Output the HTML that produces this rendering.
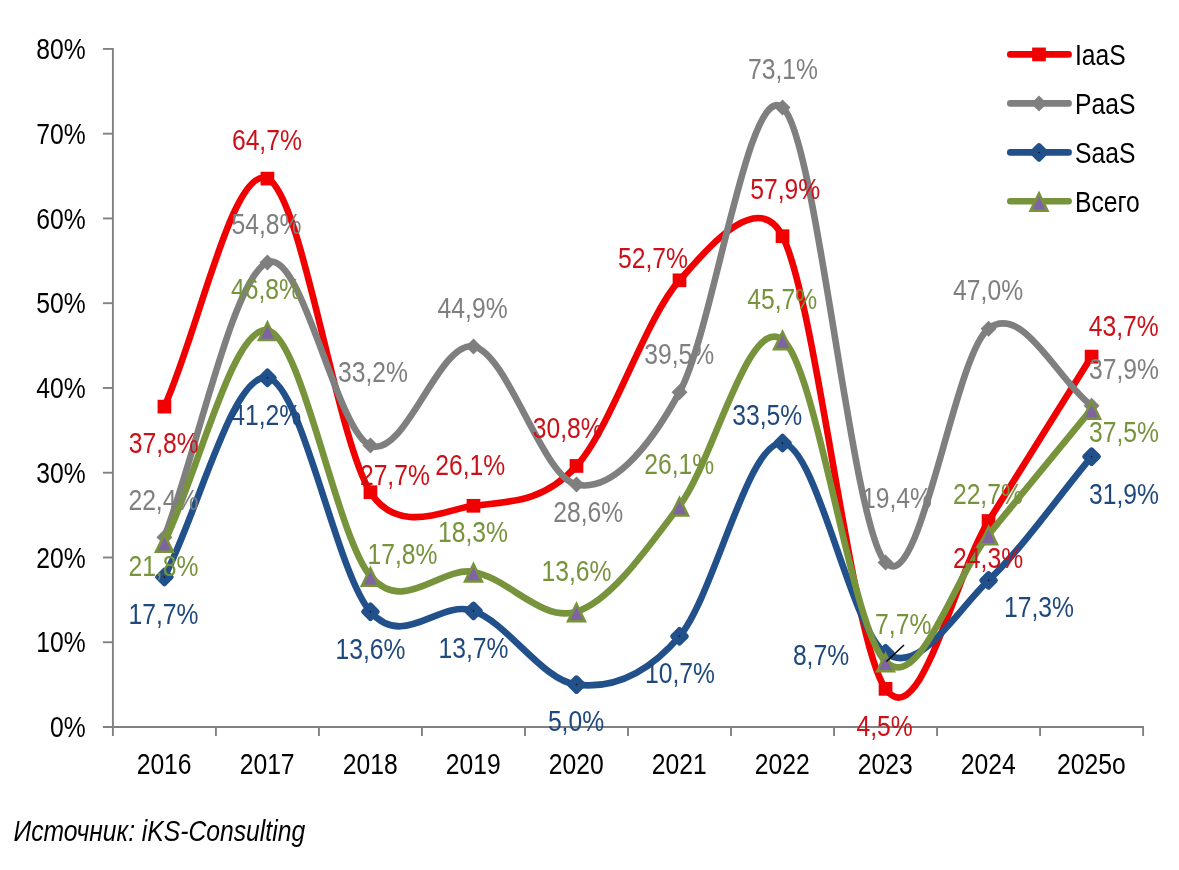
<!DOCTYPE html>
<html lang="ru"><head><meta charset="utf-8"><title>Chart</title>
<style>
html,body{margin:0;padding:0;background:#fff;}
body{width:1179px;height:870px;overflow:hidden;}
svg{display:block;}
text{font-family:"Liberation Sans",sans-serif;font-size:30.4px;}
</style></head><body>
<svg width="1179" height="870" viewBox="0 0 1179 870">
<rect width="1179" height="870" fill="#fff"/>
<g stroke="#818181" stroke-width="1.9" fill="none">
<path d="M112.9,48.02 V736.00"/>
<path d="M102.9,727.0 H1144.00"/>
<path d="M102.9,642.24 H112.9"/>
<path d="M102.9,557.48 H112.9"/>
<path d="M102.9,472.72 H112.9"/>
<path d="M102.9,387.96 H112.9"/>
<path d="M102.9,303.20 H112.9"/>
<path d="M102.9,218.44 H112.9"/>
<path d="M102.9,133.68 H112.9"/>
<path d="M102.9,48.92 H112.9"/>
<path d="M215.92,727.0 V736.0"/>
<path d="M318.94,727.0 V736.0"/>
<path d="M421.96,727.0 V736.0"/>
<path d="M524.98,727.0 V736.0"/>
<path d="M628.00,727.0 V736.0"/>
<path d="M731.02,727.0 V736.0"/>
<path d="M834.04,727.0 V736.0"/>
<path d="M937.06,727.0 V736.0"/>
<path d="M1040.08,727.0 V736.0"/>
<path d="M1143.10,727.0 V736.0"/>
</g>
<g id="ylabels">
<text transform="translate(85.60,737.20) scale(0.812,1)" text-anchor="end" fill="#000">0%</text>
<text transform="translate(85.60,652.44) scale(0.812,1)" text-anchor="end" fill="#000">10%</text>
<text transform="translate(85.60,567.68) scale(0.812,1)" text-anchor="end" fill="#000">20%</text>
<text transform="translate(85.60,482.92) scale(0.812,1)" text-anchor="end" fill="#000">30%</text>
<text transform="translate(85.60,398.16) scale(0.812,1)" text-anchor="end" fill="#000">40%</text>
<text transform="translate(85.60,313.40) scale(0.812,1)" text-anchor="end" fill="#000">50%</text>
<text transform="translate(85.60,228.64) scale(0.812,1)" text-anchor="end" fill="#000">60%</text>
<text transform="translate(85.60,143.88) scale(0.812,1)" text-anchor="end" fill="#000">70%</text>
<text transform="translate(85.60,59.12) scale(0.812,1)" text-anchor="end" fill="#000">80%</text>
</g><g id="xlabels">
<text transform="translate(164.11,773.80) scale(0.812,1)" text-anchor="middle" fill="#000">2016</text>
<text transform="translate(267.13,773.80) scale(0.812,1)" text-anchor="middle" fill="#000">2017</text>
<text transform="translate(370.15,773.80) scale(0.812,1)" text-anchor="middle" fill="#000">2018</text>
<text transform="translate(473.17,773.80) scale(0.812,1)" text-anchor="middle" fill="#000">2019</text>
<text transform="translate(576.19,773.80) scale(0.812,1)" text-anchor="middle" fill="#000">2020</text>
<text transform="translate(679.21,773.80) scale(0.812,1)" text-anchor="middle" fill="#000">2021</text>
<text transform="translate(782.23,773.80) scale(0.812,1)" text-anchor="middle" fill="#000">2022</text>
<text transform="translate(885.25,773.80) scale(0.812,1)" text-anchor="middle" fill="#000">2023</text>
<text transform="translate(988.27,773.80) scale(0.812,1)" text-anchor="middle" fill="#000">2024</text>
<text transform="translate(1091.29,773.80) scale(0.812,1)" text-anchor="middle" fill="#000">2025о</text>
</g>
<path d="M164.41,406.61 C198.75,330.61 233.09,164.33 267.43,178.60 C301.77,192.87 336.11,437.69 370.45,492.21 C398.14,536.18 445.78,509.31 473.47,505.78 C507.81,501.40 542.15,503.52 576.49,465.94 C610.83,428.36 645.17,318.60 679.51,280.31 C704.74,252.19 757.30,186.22 782.53,236.24 C816.87,304.33 851.21,641.39 885.55,688.86 C919.89,736.32 954.23,576.41 988.57,521.03 C1022.91,465.66 1057.25,411.41 1091.59,356.60" fill="none" stroke="#F00000" stroke-width="6.6" stroke-linecap="round" stroke-linejoin="round"/>
<rect x="157.56" y="399.76" width="13.7" height="13.7" fill="#F00000"/>
<rect x="260.58" y="171.75" width="13.7" height="13.7" fill="#F00000"/>
<rect x="363.60" y="485.36" width="13.7" height="13.7" fill="#F00000"/>
<rect x="466.62" y="498.93" width="13.7" height="13.7" fill="#F00000"/>
<rect x="569.64" y="459.09" width="13.7" height="13.7" fill="#F00000"/>
<rect x="672.66" y="273.46" width="13.7" height="13.7" fill="#F00000"/>
<rect x="775.68" y="229.39" width="13.7" height="13.7" fill="#F00000"/>
<rect x="878.70" y="682.01" width="13.7" height="13.7" fill="#F00000"/>
<rect x="981.72" y="514.18" width="13.7" height="13.7" fill="#F00000"/>
<rect x="1084.74" y="349.75" width="13.7" height="13.7" fill="#F00000"/>
<path d="M164.41,537.14 C198.75,445.60 233.09,277.77 267.43,262.52 C301.77,247.26 336.11,431.61 370.45,445.60 C404.79,459.58 439.13,339.93 473.47,346.43 C507.81,352.93 542.15,476.96 576.49,484.59 C609.66,491.95 646.34,452.92 679.51,392.20 C713.85,329.33 748.19,79.01 782.53,107.40 C816.87,135.80 851.21,525.70 885.55,562.57 C919.89,599.44 954.23,354.76 988.57,328.63 C1022.91,302.49 1057.25,380.05 1091.59,405.76" fill="none" stroke="#7F7F7F" stroke-width="6.6" stroke-linecap="round" stroke-linejoin="round"/>
<path d="M164.41,529.14 L172.41,537.14 L164.41,545.14 L156.41,537.14Z" fill="#7F7F7F"/>
<path d="M267.43,254.52 L275.43,262.52 L267.43,270.52 L259.43,262.52Z" fill="#7F7F7F"/>
<path d="M370.45,437.60 L378.45,445.60 L370.45,453.60 L362.45,445.60Z" fill="#7F7F7F"/>
<path d="M473.47,338.43 L481.47,346.43 L473.47,354.43 L465.47,346.43Z" fill="#7F7F7F"/>
<path d="M576.49,476.59 L584.49,484.59 L576.49,492.59 L568.49,484.59Z" fill="#7F7F7F"/>
<path d="M679.51,384.20 L687.51,392.20 L679.51,400.20 L671.51,392.20Z" fill="#7F7F7F"/>
<path d="M782.53,99.40 L790.53,107.40 L782.53,115.40 L774.53,107.40Z" fill="#7F7F7F"/>
<path d="M885.55,554.57 L893.55,562.57 L885.55,570.57 L877.55,562.57Z" fill="#7F7F7F"/>
<path d="M988.57,320.63 L996.57,328.63 L988.57,336.63 L980.57,328.63Z" fill="#7F7F7F"/>
<path d="M1091.59,397.76 L1099.59,405.76 L1091.59,413.76 L1083.59,405.76Z" fill="#7F7F7F"/>
<path d="M164.41,576.97 C198.75,510.58 233.09,372.00 267.43,377.79 C301.77,383.58 336.11,572.88 370.45,611.73 C404.57,650.32 439.35,598.81 473.47,610.88 C507.81,623.03 542.15,680.38 576.49,684.62 C610.83,688.86 645.17,676.57 679.51,636.31 C713.85,596.05 748.19,440.23 782.53,443.05 C816.87,445.88 851.21,630.37 885.55,653.26 C919.89,676.14 954.23,613.14 988.57,580.37 C1022.91,547.59 1057.25,497.87 1091.59,456.62" fill="none" stroke="#21508A" stroke-width="6.6" stroke-linecap="round" stroke-linejoin="round"/>
<path d="M164.41,570.27 L171.11,576.97 L164.41,583.67 L157.71,576.97Z" fill="#21508A" stroke="#21508A" stroke-width="5.2" stroke-linejoin="round"/><circle cx="164.41" cy="576.97" r="0.75" fill="#0a0a1a"/>
<path d="M267.43,371.09 L274.13,377.79 L267.43,384.49 L260.73,377.79Z" fill="#21508A" stroke="#21508A" stroke-width="5.2" stroke-linejoin="round"/><circle cx="267.43" cy="377.79" r="0.75" fill="#0a0a1a"/>
<path d="M370.45,605.03 L377.15,611.73 L370.45,618.43 L363.75,611.73Z" fill="#21508A" stroke="#21508A" stroke-width="5.2" stroke-linejoin="round"/><circle cx="370.45" cy="611.73" r="0.75" fill="#0a0a1a"/>
<path d="M473.47,604.18 L480.17,610.88 L473.47,617.58 L466.77,610.88Z" fill="#21508A" stroke="#21508A" stroke-width="5.2" stroke-linejoin="round"/><circle cx="473.47" cy="610.88" r="0.75" fill="#0a0a1a"/>
<path d="M576.49,677.92 L583.19,684.62 L576.49,691.32 L569.79,684.62Z" fill="#21508A" stroke="#21508A" stroke-width="5.2" stroke-linejoin="round"/><circle cx="576.49" cy="684.62" r="0.75" fill="#0a0a1a"/>
<path d="M679.51,629.61 L686.21,636.31 L679.51,643.01 L672.81,636.31Z" fill="#21508A" stroke="#21508A" stroke-width="5.2" stroke-linejoin="round"/><circle cx="679.51" cy="636.31" r="0.75" fill="#0a0a1a"/>
<path d="M782.53,436.35 L789.23,443.05 L782.53,449.75 L775.83,443.05Z" fill="#21508A" stroke="#21508A" stroke-width="5.2" stroke-linejoin="round"/><circle cx="782.53" cy="443.05" r="0.75" fill="#0a0a1a"/>
<path d="M885.55,646.56 L892.25,653.26 L885.55,659.96 L878.85,653.26Z" fill="#21508A" stroke="#21508A" stroke-width="5.2" stroke-linejoin="round"/><circle cx="885.55" cy="653.26" r="0.75" fill="#0a0a1a"/>
<path d="M988.57,573.67 L995.27,580.37 L988.57,587.07 L981.87,580.37Z" fill="#21508A" stroke="#21508A" stroke-width="5.2" stroke-linejoin="round"/><circle cx="988.57" cy="580.37" r="0.75" fill="#0a0a1a"/>
<path d="M1091.59,449.92 L1098.29,456.62 L1091.59,463.32 L1084.89,456.62Z" fill="#21508A" stroke="#21508A" stroke-width="5.2" stroke-linejoin="round"/><circle cx="1091.59" cy="456.62" r="0.75" fill="#0a0a1a"/>
<path d="M164.41,542.22 C198.75,471.59 233.09,324.67 267.43,330.32 C301.77,335.97 336.11,535.87 370.45,576.13 C403.91,615.35 440.01,566.11 473.47,571.89 C507.81,577.82 542.15,622.75 576.49,611.73 C610.83,600.71 645.17,551.12 679.51,505.78 C713.85,460.43 748.19,313.65 782.53,339.65 C816.87,365.64 851.21,629.24 885.55,661.73 C919.89,694.23 954.23,576.69 988.57,534.59 C1022.91,492.50 1057.25,450.96 1091.59,409.15" fill="none" stroke="#77933C" stroke-width="6.6" stroke-linecap="round" stroke-linejoin="round"/>
<path d="M164.41,534.42 L172.91,551.82 L155.91,551.82Z" fill="#8064A2" stroke="#77933C" stroke-width="2.5" stroke-linejoin="miter"/>
<path d="M267.43,322.52 L275.93,339.92 L258.93,339.92Z" fill="#8064A2" stroke="#77933C" stroke-width="2.5" stroke-linejoin="miter"/>
<path d="M370.45,568.33 L378.95,585.73 L361.95,585.73Z" fill="#8064A2" stroke="#77933C" stroke-width="2.5" stroke-linejoin="miter"/>
<path d="M473.47,564.09 L481.97,581.49 L464.97,581.49Z" fill="#8064A2" stroke="#77933C" stroke-width="2.5" stroke-linejoin="miter"/>
<path d="M576.49,603.93 L584.99,621.33 L567.99,621.33Z" fill="#8064A2" stroke="#77933C" stroke-width="2.5" stroke-linejoin="miter"/>
<path d="M679.51,497.98 L688.01,515.38 L671.01,515.38Z" fill="#8064A2" stroke="#77933C" stroke-width="2.5" stroke-linejoin="miter"/>
<path d="M782.53,331.85 L791.03,349.25 L774.03,349.25Z" fill="#8064A2" stroke="#77933C" stroke-width="2.5" stroke-linejoin="miter"/>
<path d="M885.55,653.93 L894.05,671.33 L877.05,671.33Z" fill="#8064A2" stroke="#77933C" stroke-width="2.5" stroke-linejoin="miter"/>
<path d="M988.57,526.79 L997.07,544.19 L980.07,544.19Z" fill="#8064A2" stroke="#77933C" stroke-width="2.5" stroke-linejoin="miter"/>
<path d="M1091.59,401.35 L1100.09,418.75 L1083.09,418.75Z" fill="#8064A2" stroke="#77933C" stroke-width="2.5" stroke-linejoin="miter"/>
<g id="labels">
<text transform="translate(163.70,452.60) scale(0.812,1)" text-anchor="middle" fill="#CC1018">37,8%</text>
<text transform="translate(266.90,150.00) scale(0.812,1)" text-anchor="middle" fill="#CC1018">64,7%</text>
<text transform="translate(394.90,485.30) scale(0.812,1)" text-anchor="middle" fill="#CC1018">27,7%</text>
<text transform="translate(470.30,475.00) scale(0.812,1)" text-anchor="middle" fill="#CC1018">26,1%</text>
<text transform="translate(567.80,437.60) scale(0.812,1)" text-anchor="middle" fill="#CC1018">30,8%</text>
<text transform="translate(653.00,267.80) scale(0.812,1)" text-anchor="middle" fill="#CC1018">52,7%</text>
<text transform="translate(785.20,198.70) scale(0.812,1)" text-anchor="middle" fill="#CC1018">57,9%</text>
<text transform="translate(884.60,735.60) scale(0.812,1)" text-anchor="middle" fill="#CC1018">4,5%</text>
<text transform="translate(988.10,568.30) scale(0.812,1)" text-anchor="middle" fill="#CC1018">24,3%</text>
<text transform="translate(1123.70,336.20) scale(0.812,1)" text-anchor="middle" fill="#CC1018">43,7%</text>
<text transform="translate(163.40,509.60) scale(0.812,1)" text-anchor="middle" fill="#7F7F7F">22,4%</text>
<text transform="translate(266.50,234.10) scale(0.812,1)" text-anchor="middle" fill="#7F7F7F">54,8%</text>
<text transform="translate(373.00,381.50) scale(0.812,1)" text-anchor="middle" fill="#7F7F7F">33,2%</text>
<text transform="translate(472.60,318.00) scale(0.812,1)" text-anchor="middle" fill="#7F7F7F">44,9%</text>
<text transform="translate(588.30,521.50) scale(0.812,1)" text-anchor="middle" fill="#7F7F7F">28,6%</text>
<text transform="translate(679.20,363.90) scale(0.812,1)" text-anchor="middle" fill="#7F7F7F">39,5%</text>
<text transform="translate(783.00,79.40) scale(0.812,1)" text-anchor="middle" fill="#7F7F7F">73,1%</text>
<text transform="translate(897.00,507.80) scale(0.812,1)" text-anchor="middle" fill="#7F7F7F">19,4%</text>
<text transform="translate(988.10,299.80) scale(0.812,1)" text-anchor="middle" fill="#7F7F7F">47,0%</text>
<text transform="translate(1124.00,378.70) scale(0.812,1)" text-anchor="middle" fill="#7F7F7F">37,9%</text>
<text transform="translate(163.50,624.30) scale(0.812,1)" text-anchor="middle" fill="#1F497D">17,7%</text>
<text transform="translate(266.20,424.70) scale(0.812,1)" text-anchor="middle" fill="#1F497D">41,2%</text>
<text transform="translate(370.50,658.90) scale(0.812,1)" text-anchor="middle" fill="#1F497D">13,6%</text>
<text transform="translate(473.50,658.00) scale(0.812,1)" text-anchor="middle" fill="#1F497D">13,7%</text>
<text transform="translate(576.00,731.40) scale(0.812,1)" text-anchor="middle" fill="#1F497D">5,0%</text>
<text transform="translate(680.00,683.40) scale(0.812,1)" text-anchor="middle" fill="#1F497D">10,7%</text>
<text transform="translate(767.20,425.00) scale(0.812,1)" text-anchor="middle" fill="#1F497D">33,5%</text>
<text transform="translate(821.00,665.00) scale(0.812,1)" text-anchor="middle" fill="#1F497D">8,7%</text>
<text transform="translate(1039.00,617.20) scale(0.812,1)" text-anchor="middle" fill="#1F497D">17,3%</text>
<text transform="translate(1124.00,503.50) scale(0.812,1)" text-anchor="middle" fill="#1F497D">31,9%</text>
<text transform="translate(163.40,575.70) scale(0.812,1)" text-anchor="middle" fill="#77933C">21,8%</text>
<text transform="translate(266.00,298.50) scale(0.812,1)" text-anchor="middle" fill="#77933C">46,8%</text>
<text transform="translate(402.50,564.20) scale(0.812,1)" text-anchor="middle" fill="#77933C">17,8%</text>
<text transform="translate(473.00,541.50) scale(0.812,1)" text-anchor="middle" fill="#77933C">18,3%</text>
<text transform="translate(576.50,580.50) scale(0.812,1)" text-anchor="middle" fill="#77933C">13,6%</text>
<text transform="translate(679.20,474.20) scale(0.812,1)" text-anchor="middle" fill="#77933C">26,1%</text>
<text transform="translate(782.20,308.70) scale(0.812,1)" text-anchor="middle" fill="#77933C">45,7%</text>
<text transform="translate(903.20,634.20) scale(0.812,1)" text-anchor="middle" fill="#77933C">7,7%</text>
<text transform="translate(987.90,503.50) scale(0.812,1)" text-anchor="middle" fill="#77933C">22,7%</text>
<text transform="translate(1124.00,442.20) scale(0.812,1)" text-anchor="middle" fill="#77933C">37,5%</text>
</g>
<path d="M886.4,661.5 L904,645" stroke="#000" stroke-width="1.5" fill="none"/>
<path d="M1010.3,54.4 H1068.6" stroke="#F00000" stroke-width="6.6" stroke-linecap="round"/>
<rect x="1032.15" y="47.55" width="13.7" height="13.7" fill="#F00000"/>
<text transform="translate(1075.00,64.80) scale(0.812,1)" text-anchor="start" fill="#000">IaaS</text>
<path d="M1010.3,103.4 H1068.6" stroke="#7F7F7F" stroke-width="6.6" stroke-linecap="round"/>
<path d="M1039.00,95.40 L1047.00,103.40 L1039.00,111.40 L1031.00,103.40Z" fill="#7F7F7F"/>
<text transform="translate(1075.00,113.80) scale(0.812,1)" text-anchor="start" fill="#000">PaaS</text>
<path d="M1010.3,152.4 H1068.6" stroke="#21508A" stroke-width="6.6" stroke-linecap="round"/>
<path d="M1039.00,145.70 L1045.70,152.40 L1039.00,159.10 L1032.30,152.40Z" fill="#21508A" stroke="#21508A" stroke-width="5.2" stroke-linejoin="round"/><circle cx="1039.00" cy="152.40" r="0.75" fill="#0a0a1a"/>
<text transform="translate(1075.00,162.80) scale(0.812,1)" text-anchor="start" fill="#000">SaaS</text>
<path d="M1010.3,201.2 H1068.6" stroke="#77933C" stroke-width="6.6" stroke-linecap="round"/>
<path d="M1039.00,193.40 L1047.50,210.80 L1030.50,210.80Z" fill="#8064A2" stroke="#77933C" stroke-width="2.5" stroke-linejoin="miter"/>
<text transform="translate(1075.00,211.60) scale(0.812,1)" text-anchor="start" fill="#000">Всего</text>
<text transform="translate(13.50,840.60) scale(0.812,1)" text-anchor="start" fill="#000" font-style="italic">Источник: iKS-Consulting</text>
</svg></body></html>
